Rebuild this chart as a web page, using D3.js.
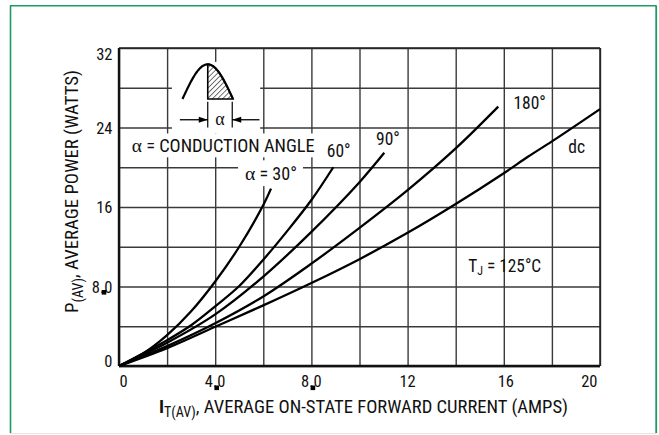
<!DOCTYPE html>
<html>
<head>
<meta charset="utf-8">
<script src="https://cdn.jsdelivr.net/npm/d3@7"></script>
<style>
  html, body { margin: 0; padding: 0; background: #fff; }
  svg { display: block; }
  text { font-family: "Liberation Sans Narrow", "Arial Narrow", "Roboto Condensed", "DejaVu Sans Condensed", sans-serif; fill: #111; }
  .greek { font-family: "Liberation Serif", "DejaVu Serif", serif; }
</style>
</head>
<body>
<svg id="chart" width="659" height="435"></svg>
<script>
// ---------------- data ----------------
const xTickValues = [0, 4, 8, 12, 16, 20];
const xTickLabels = ["0", "4.0", "8.0", "12", "16", "20"];
const yTickValues = [0, 8, 16, 24, 32];
const yTickLabels = ["0", "8.0", "16", "24", "32"];
const xGridValues = [0, 2, 4, 6, 8, 10, 12, 14, 16, 18, 20];
const yGridValues = [0, 4, 8, 12, 16, 20, 24, 28, 32];

// conduction angle curves: I_T(AV) (A) vs P(AV) (W)
const a30X  = [0, 1, 2, 3, 4, 5, 6, 6.32];
const a30Y  = [0, 1.25, 3.1, 5.5, 8.5, 12.0, 16.2, 17.85];
const a60X  = [0, 2, 3, 4, 5, 6, 7, 8, 8.91];
const a60Y  = [0, 2.6, 4.1, 6.0, 8.05, 10.7, 13.6, 16.7, 20.0];
const a90X  = [0, 2, 4, 6, 8, 10, 11.03];
const a90Y  = [0, 2.35, 5.2, 9.0, 13.5, 18.5, 21.45];
const a180X = [0, 2, 4, 6, 8, 10, 12, 14, 15.77];
const a180Y = [0, 2.0, 4.3, 7.0, 10.3, 13.9, 17.7, 21.9, 26.1];
const dcX   = [0, 2, 4, 6, 8, 10, 12, 14, 16, 17, 18, 20];
const dcY   = [0, 1.8, 3.95, 6.1, 8.35, 10.75, 13.4, 16.3, 19.4, 21.05, 22.6, 25.85];

const seriesNames = ["30", "60", "90", "180", "dc"];
const seriesX = [a30X, a60X, a90X, a180X, dcX];
const seriesY = [a30Y, a60Y, a90Y, a180Y, dcY];

// curve labels (data coordinates of text start / baseline)
const curveLabelText = ["60°", "90°", "180°", "dc"];
const curveLabelX = [8.64, 10.69, 16.4, 18.68];
const curveLabelY = [21.06, 22.24, 25.83, 21.4];

// ---------------- setup ----------------
const svg = d3.select("#chart");
const x = d3.scaleLinear().domain([0, 20]).range([119, 600]);
const y = d3.scaleLinear().domain([0, 32]).range([366, 48]);

// outer frame
const green = "#1f9b63";
svg.append("line").attr("x1", 10.5).attr("x2", 10.5).attr("y1", 5.5).attr("y2", 433).attr("stroke", green).attr("stroke-width", 1.6);
svg.append("line").attr("x1", 10).attr("x2", 656.5).attr("y1", 5.8).attr("y2", 5.8).attr("stroke", green).attr("stroke-width", 1.6);
svg.append("line").attr("x1", 656.2).attr("x2", 656.2).attr("y1", 5.5).attr("y2", 433).attr("stroke", green).attr("stroke-width", 1.8);
svg.append("line").attr("x1", 10).attr("x2", 656.5).attr("y1", 433.5).attr("y2", 433.5).attr("stroke", "#e6e6e6").attr("stroke-width", 1);

// grid via d3 axes
const gGridX = svg.append("g").attr("transform", `translate(0,${y(0)})`)
  .call(d3.axisBottom(x).tickValues(xGridValues).tickSize(-(y(0) - y(32))).tickFormat(""));
gGridX.select(".domain").remove();
gGridX.selectAll("line").attr("stroke", "#3a3a3a").attr("stroke-width", 1.4);

const gGridY = svg.append("g").attr("transform", `translate(${x(0)},0)`)
  .call(d3.axisLeft(y).tickValues(yGridValues).tickSize(-(x(20) - x(0))).tickFormat(""));
gGridY.select(".domain").remove();
gGridY.selectAll("line").attr("stroke", "#3a3a3a").attr("stroke-width", 1.4);

// axes lines (heavier)
svg.append("line").attr("x1", x(0)).attr("x2", x(20)).attr("y1", y(0)).attr("y2", y(0)).attr("stroke", "#111").attr("stroke-width", 2.4);
svg.append("line").attr("x1", x(0)).attr("x2", x(0)).attr("y1", y(0)).attr("y2", y(32)).attr("stroke", "#111").attr("stroke-width", 2.4);
svg.append("line").attr("x1", x(0)).attr("x2", x(20)).attr("y1", y(32)).attr("y2", y(32)).attr("stroke", "#222").attr("stroke-width", 1.5);
svg.append("line").attr("x1", x(20)).attr("x2", x(20)).attr("y1", y(0)).attr("y2", y(32)).attr("stroke", "#222").attr("stroke-width", 1.5);

// white boxes behind annotations
function whiteBox(x0, y0, x1, y1) {
  svg.append("rect").attr("x", x0).attr("y", y0).attr("width", x1 - x0).attr("height", y1 - y0).attr("fill", "#fff");
}
whiteBox(x(2.2), y(30.6), x(5.87), y(23.4));   // inset
whiteBox(x(0.38), y(23.4), x(8.28), y(21.0));   // conduction angle text
whiteBox(x(4.95), y(20.7), x(7.65), y(18.1));   // alpha = 30

// curves
const line = d3.line().x(d => x(d[0])).y(d => y(d[1])).curve(d3.curveCatmullRom.alpha(0.5));
seriesNames.forEach((name, i) => {
  const pts = seriesX[i].map((v, j) => [v, seriesY[i][j]]);
  svg.append("path").datum(pts).attr("d", line)
    .attr("fill", "none").attr("stroke", "#000").attr("stroke-width", 2.3).attr("stroke-linecap", "butt");
});

// tick labels
const tickSize = 16.5;
xTickValues.forEach((v, i) => {
  let px = x(v), anchor = "middle";
  if (v === 0) { px = x(0) + 0.5; anchor = "start"; }
  if (v === 20) { px = x(20) - 2.5; anchor = "end"; }
  if (v === 16) { px = x(16) + 2; }
  svg.append("text").attr("x", px).attr("y", 386.5).attr("text-anchor", anchor)
    .attr("font-size", tickSize).text(xTickLabels[i]);
});
yTickValues.forEach((v, i) => {
  let py = y(v) + 6;
  if (v === 32) py = y(32) + 12;
  if (v === 0) py = y(0) + 0.5;
  svg.append("text").attr("x", 112.5).attr("y", py).attr("text-anchor", "end")
    .attr("font-size", tickSize).text(yTickLabels[i]);
});
// decimal-point squares as in the original artwork
[[x(4) + 1.5, 385.5], [x(8) + 1.5, 385.5], [104, y(8) + 3.5]].forEach(p => {
  svg.append("rect").attr("x", p[0] - 2.3).attr("y", p[1]).attr("width", 4.6).attr("height", 4.6).attr("fill", "#000");
});

// axis titles
const xt = svg.append("text").attr("x", 159).attr("y", 412.5).attr("font-size", 18.5)
  .attr("textLength", 409).attr("lengthAdjust", "spacingAndGlyphs");
xt.append("tspan").attr("font-weight", "bold").text("I");
xt.append("tspan").attr("font-size", 14).attr("dy", 4).text("T(AV)");
xt.append("tspan").attr("dy", -4).text(", AVERAGE ON-STATE FORWARD CURRENT (AMPS)");

const yt = svg.append("text").attr("transform", "translate(77.5,313) rotate(-90)")
  .attr("x", 0).attr("y", 0).attr("font-size", 18.5)
  .attr("textLength", 243).attr("lengthAdjust", "spacingAndGlyphs");
yt.append("tspan").text("P");
yt.append("tspan").attr("font-size", 14).attr("dy", 5).text("(AV)");
yt.append("tspan").attr("dy", -5).text(", AVERAGE POWER (WATTS)");

// curve labels
curveLabelText.forEach((t, i) => {
  svg.append("text").attr("x", x(curveLabelX[i])).attr("y", y(curveLabelY[i]))
    .attr("font-size", 17.5).text(t);
});

// alpha = 30°
const a30 = svg.append("text").attr("x", x(5.24)).attr("y", y(18.72)).attr("font-size", 17.5)
  .attr("textLength", 52).attr("lengthAdjust", "spacingAndGlyphs");
a30.append("tspan").attr("class", "greek").attr("font-size", 19).text("α");
a30.append("tspan").text(" = 30°");

// alpha = conduction angle
const ca = svg.append("text").attr("x", x(0.53)).attr("y", y(21.56)).attr("font-size", 18)
  .attr("textLength", 183).attr("lengthAdjust", "spacingAndGlyphs");
ca.append("tspan").attr("class", "greek").attr("font-size", 19).text("α");
ca.append("tspan").text(" = CONDUCTION ANGLE");

// T_J = 125°C
const tj = svg.append("text").attr("x", x(14.52)).attr("y", y(9.49)).attr("font-size", 17.5)
  .attr("textLength", 73).attr("lengthAdjust", "spacingAndGlyphs");
tj.append("tspan").text("T");
tj.append("tspan").attr("font-size", 12).attr("dy", 3.5).text("J");
tj.append("tspan").attr("dy", -3.5).text(" = 125°C");

// ---------------- inset: half sine with hatched conduction portion ----------------
const defs = svg.append("defs");
const pat = defs.append("pattern").attr("id", "hatch").attr("patternUnits", "userSpaceOnUse")
  .attr("width", 3.6).attr("height", 3.6).attr("patternTransform", "rotate(45)");
pat.append("line").attr("x1", 0).attr("y1", 0).attr("x2", 0).attr("y2", 3.6).attr("stroke", "#000").attr("stroke-width", 1.1);

const ix0 = x(2.64), ix1 = x(4.74), iyBase = y(26.87), iyTop = y(30.36);
const sx = d3.scaleLinear().domain([0, 1]).range([ix0, ix1]);
const sy = d3.scaleLinear().domain([0, 1]).range([iyBase, iyTop]);
const tFull = d3.range(0, 1.0001, 0.02);
const tHalf = d3.range(0.5, 1.0001, 0.02);
const sine = d3.line().x(t => sx(t)).y(t => sy(Math.sin(Math.PI * t)));
// hatched right half
const halfPts = tHalf.map(t => [sx(t), sy(Math.sin(Math.PI * t))]);
const areaPath = "M" + sx(0.5) + "," + sy(0) + "L" + halfPts.map(p => p.join(",")).join("L") + "Z";
svg.append("path").attr("d", areaPath).attr("fill", "url(#hatch)").attr("stroke", "#000").attr("stroke-width", 1.6);
svg.append("path").attr("d", sine(tFull)).attr("fill", "none").attr("stroke", "#000").attr("stroke-width", 2.2);

// dimension lines and arrows
const dimY = y(24.78);
const ext0 = sx(0.5), ext1 = sx(0.985);
[ext0, ext1].forEach(px => {
  svg.append("line").attr("x1", px).attr("x2", px).attr("y1", y(26.6)).attr("y2", y(24.0)).attr("stroke", "#000").attr("stroke-width", 1.2);
});
svg.append("line").attr("x1", x(2.53)).attr("x2", ext0).attr("y1", dimY).attr("y2", dimY).attr("stroke", "#000").attr("stroke-width", 1.3);
svg.append("line").attr("x1", ext1).attr("x2", x(5.84)).attr("y1", dimY).attr("y2", dimY).attr("stroke", "#000").attr("stroke-width", 1.3);
svg.append("path").attr("d", `M${ext0},${dimY} l-9,-3 l0,6 Z`).attr("fill", "#000");
svg.append("path").attr("d", `M${ext1},${dimY} l9,-3 l0,6 Z`).attr("fill", "#000");
svg.append("text").attr("class", "greek").attr("x", (ext0 + ext1) / 2).attr("y", dimY + 5)
  .attr("text-anchor", "middle").attr("font-size", 18).text("α");
</script>
</body>
</html>
